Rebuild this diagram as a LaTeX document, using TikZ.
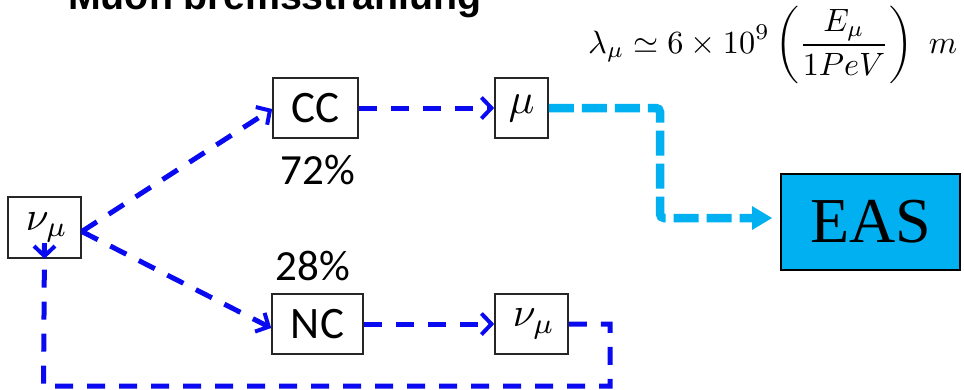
\documentclass[tikz,border=0pt]{standalone}
\usepackage{graphicx}
\usepackage{fontspec}
\newfontfamily\labelfont{Carlito}
\newfontfamily\headfont{Liberation Sans}
\newfontfamily\easfont{Liberation Serif}
\usetikzlibrary{arrows.meta}

\definecolor{flowblue}{RGB}{10,10,240}
\definecolor{showercyan}{RGB}{0,176,240}

\tikzset{
  box/.style={draw=black!85, line width=1.6pt, fill=white, inner sep=0pt,
    minimum height=60pt},
  flow/.style={draw=flowblue, line width=5pt, dash pattern=on 18pt off 14pt,
    -{Straight Barb[length=10pt,width=21pt,line width=4pt]}},
  loopback/.style={draw=flowblue, line width=5pt, dash pattern=on 18pt off 14pt},
  shower/.style={draw=showercyan, line width=8.5pt, dash pattern=on 25pt off 8pt,
    rounded corners=4pt},
  pct/.style={inner sep=0pt, font=\labelfont\fontsize{43}{45}\selectfont},
  boxtext/.style={font=\labelfont\fontsize{45}{47}\selectfont},
}

\begin{document}
\begin{tikzpicture}[x=1pt,y=-1pt]
\useasboundingbox (0,0) rectangle (964,389);
\clip (0,0) rectangle (964,389);

% heading, cut by the top edge
\node[anchor=base west, inner sep=0pt] (head) at (68,9)
  {\resizebox{413pt}{!}{\headfont\bfseries Muon bremsstrahlung}};

% muon range
\node[anchor=base west, inner sep=0pt] (range) at (588,53)
  {\resizebox{369pt}{!}{$\displaystyle \lambda_\mu \simeq 6\times10^9\left(\frac{E_\mu}{1PeV}\right)\ m$}};

% boxes
\node[box, minimum width=73pt, minimum height=61pt] (nu) at (44.5,227.5)
  {\hspace{5pt}\scalebox{4.1}{$\nu_\mu$}};
\node[box, boxtext, minimum width=85pt] (cc) at (315.5,108) {CC};
\node[box, minimum width=53pt] (mu) at (521.5,108)
  {\scalebox{4.3}{$\mu$}};
\node[box, boxtext, minimum width=91pt] (nc) at (317.5,324) {NC};
\node[box, minimum width=73pt] (nu2) at (531.5,324)
  {\hspace{5pt}\scalebox{4.1}{$\nu_\mu$}};
\node[draw=black, line width=2pt, fill=showercyan, inner sep=0pt,
  minimum width=179pt, minimum height=96pt] (eas) at (870.5,222)
  {\easfont\fontsize{64}{66}\selectfont EAS};

% branching ratios
\node[pct] (p72) at (318,170) {72\%};
\node[pct] (p28) at (313,266) {28\%};

% interaction channels
\draw[flow] ([yshift=-4pt]nu.east) -- ([yshift=-1pt]cc.west);
\draw[flow] ([yshift=-4pt]nu.east) -- ([yshift=-4pt]nc.west);
\draw[flow] (cc.east) -- (mu.west);
\draw[flow] (nc.east) -- (nu2.west);

% muon to air shower
\coordinate (c1) at (660,108);
\coordinate (c2) at (660,218);
\coordinate (c3) at (772,218);
\draw[shower] (mu.east) -- (c1) -- (c2) -- ([xshift=-14pt]c3);
\fill[showercyan] (c3) -- ++(-20pt,-12pt) -- ++(0,24pt) -- cycle;

% neutrino regeneration loop
\coordinate (l1) at (610,324);
\coordinate (l2) at (610,386);
\coordinate (l3) at (43.5,386);
\draw[loopback] (nu2.east) -- (l1) -- (l2) -- (l3) -- ([yshift=14pt]nu.south);
\draw[flow, solid] ([yshift=16pt]nu.south) -- (nu.south);
\end{tikzpicture}
\end{document}
